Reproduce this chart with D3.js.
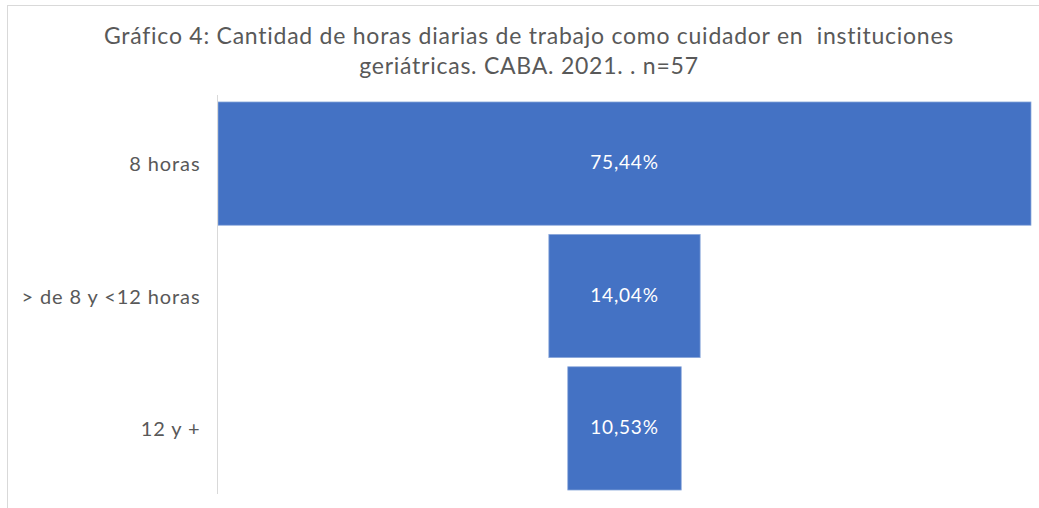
<!DOCTYPE html>
<html>
<head>
<meta charset="utf-8">
<script src="https://cdn.jsdelivr.net/npm/d3@7"></script>
<style>
  body { margin: 0; background: #fff; }
  svg text { font-family: Lato, "Open Sans", sans-serif; white-space: pre; }
</style>
</head>
<body>
<svg id="chart"></svg>
<script>
// Funnel: share of caregivers by daily working hours
const categories = ["8 horas", "> de 8 y <12 horas", "12 y +"];
const values = [75.44, 14.04, 10.53];
const titleLines = [
  "Gráfico 4: Cantidad de horas diarias de trabajo como cuidador en  instituciones",
  "geriátricas. CABA. 2021. . n=57"
];

const width = 1039, height = 508;
const plot = { left: 218, right: 1031, top: 97.4, bottom: 494.6 };
const gray = "#595959";

const svg = d3.select("#chart").attr("width", width).attr("height", height);

// outer chart frame
svg.append("rect")
  .attr("x", 7.5).attr("y", 5.5)
  .attr("width", width + 10).attr("height", height + 10)
  .attr("fill", "#fff").attr("stroke", "#d9d9d9");

svg.selectAll(".title")
  .data(titleLines)
  .enter().append("text")
  .attr("class", "title")
  .attr("x", 529)
  .attr("y", (d, i) => 44 + i * 30)
  .attr("text-anchor", "middle")
  .attr("font-size", 23)
  .attr("letter-spacing", 0.75)
  .attr("fill", gray)
  .text(d => d);

const y = d3.scaleBand()
  .domain(categories)
  .range([plot.top, plot.bottom])
  .paddingInner(0.069)
  .paddingOuter(0.0345);

const x = d3.scaleLinear()
  .domain([0, d3.max(values)])
  .range([0, plot.right - plot.left]);

const cx = (plot.left + plot.right) / 2;

const data = categories.map((c, i) => ({ cat: c, value: values[i] }));

svg.selectAll(".bar")
  .data(data)
  .enter().append("rect")
  .attr("class", "bar")
  .attr("x", d => cx - x(d.value) / 2)
  .attr("y", d => y(d.cat))
  .attr("width", d => x(d.value))
  .attr("height", y.bandwidth())
  .attr("fill", "#4472c4")
  .attr("stroke", "#8eaadb")
  .attr("stroke-width", 0.75);

svg.selectAll(".val")
  .data(data)
  .enter().append("text")
  .attr("class", "val")
  .attr("x", cx)
  .attr("y", d => y(d.cat) + y.bandwidth() / 2)
  .attr("dy", "0.3em")
  .attr("text-anchor", "middle")
  .attr("font-size", 19)
  .attr("letter-spacing", 0.8)
  .attr("fill", "#fff")
  .text(d => d3.format(".2f")(d.value).replace(".", ",") + "%");

// category axis
const axis = svg.append("g")
  .attr("transform", `translate(${plot.left - 0.5},0)`)
  .call(d3.axisLeft(y).tickSize(0).tickPadding(17));
axis.select(".domain").attr("stroke", "#d9d9d9").attr("d", `M0,95V494`);
axis.selectAll("text")
  .attr("font-size", 20)
  .attr("letter-spacing", 0.9)
  .attr("dy", "0.38em")
  .attr("fill", gray)
  .style("font-family", "Lato, sans-serif");
</script>
</body>
</html>
